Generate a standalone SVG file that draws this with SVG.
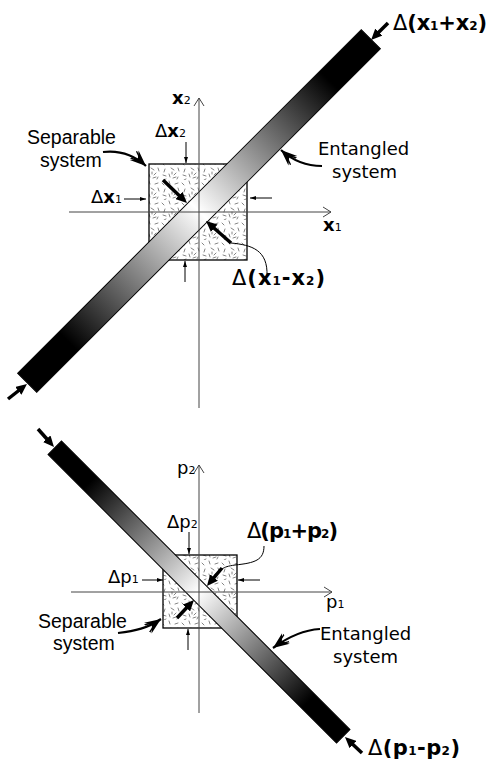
<svg xmlns="http://www.w3.org/2000/svg" width="492" height="767" viewBox="0 0 492 767">
<defs>
  <linearGradient id="barGrad" x1="0" y1="0" x2="1" y2="0">
    <stop offset="0" stop-color="#000"/>
    <stop offset="0.12" stop-color="#000"/>
    <stop offset="0.5" stop-color="#fff"/>
    <stop offset="0.88" stop-color="#000"/>
    <stop offset="1" stop-color="#000"/>
  </linearGradient>
  <pattern id="speckle" width="20" height="20" patternUnits="userSpaceOnUse">
    <rect width="20" height="20" fill="#fff"/>
    <g stroke="#666" stroke-width="0.8" stroke-linecap="round">
      <path d="M2,3 l2,2 M9,1 l1,3 M15,4 l3,-1 M18,8 l1,3 M5,9 l-1,3 M11,8 l3,2 M16,13 l-2,2 M3,15 l3,1 M9,14 l1,3 M13,18 l3,-1 M18,17 l-1,2 M6,19 l-2,1 M12,12 l0,2"/>
    </g>
  </pattern>
  <marker id="thick" markerUnits="userSpaceOnUse" markerWidth="11" markerHeight="10" viewBox="0 0 11 10" refX="3" refY="5" orient="auto">
    <path d="M0,0 L11,5 L0,10 z" fill="#000"/>
  </marker>
  <marker id="thin" markerUnits="userSpaceOnUse" markerWidth="6" markerHeight="4" viewBox="0 0 6 4" refX="6" refY="2" orient="auto">
    <path d="M0,0 L6,2 L0,4 z" fill="#000"/>
  </marker>
  <marker id="feather" markerUnits="userSpaceOnUse" markerWidth="18" markerHeight="15" viewBox="0 0 18 15" refX="17" refY="7.5" orient="auto">
    <path d="M17,7.5 L1,1 L6,7.5 L1,14 Z" fill="#000"/>
    <path d="M11,7.5 L0,3 M11,7.5 L0,12" stroke="#000" stroke-width="1.3" fill="none"/>
  </marker>
  <marker id="axhead" markerUnits="userSpaceOnUse" markerWidth="10" markerHeight="12" viewBox="0 0 10 12" refX="9" refY="6" orient="auto">
    <path d="M1,1 L9,6 L1,11" fill="none" stroke="#444" stroke-width="1"/>
  </marker>
</defs>
<style>
  .axis { stroke:#444; stroke-width:1; fill:none; marker-end:url(#axhead); }
  .box { fill:url(#speckle); stroke:#000; stroke-width:1.3; }
  .bar { fill:url(#barGrad); stroke:#000; stroke-width:1; }
  .thick { stroke:#000; stroke-width:3.5; fill:none; marker-end:url(#thick); }
  .thin { stroke:#000; stroke-width:1; fill:none; marker-end:url(#thin); }
  .feat { stroke:#000; stroke-width:2.2; fill:none; marker-end:url(#feather); }
  .lead { stroke:#000; stroke-width:1; fill:none; }
  .helv { font-family:"Liberation Sans",Arial,sans-serif; font-size:19.5px; fill:#000; }
  .comic { font-family:"DejaVu Sans","Noto Sans",sans-serif; font-size:18px; fill:#000; }
  .big { font-family:"DejaVu Sans","Noto Sans",sans-serif; font-size:21px; font-weight:bold; fill:#000; }
  .med { font-family:"DejaVu Sans","Noto Sans",sans-serif; font-size:18px; fill:#000; }
  .dl { font-weight:normal; }
  .sub { font-size:12px; }
  .sub2 { font-size:11px; }
</style>

<!-- ===== Top panel: position space ===== -->
<g id="box-x"><rect class="box" x="149" y="164" width="98" height="96"/></g>
<g id="bar-x"><rect class="bar" x="-243" y="-13.5" width="486" height="27" transform="translate(199,211) rotate(-45)"/></g>
<g id="axes-x">
  <line class="axis" x1="69" y1="212" x2="331" y2="212"/>
  <line class="axis" x1="199" y1="408" x2="199" y2="98"/>
  <text class="med" x="172" y="104" font-weight="bold">x<tspan class="sub2" font-weight="normal">2</tspan></text>
  <text class="med" x="323" y="231" font-weight="bold">x<tspan class="sub2" font-weight="normal">1</tspan></text>
</g>
<g id="label-dx1"><text class="med" x="91" y="203">Δ<tspan font-weight="bold">x</tspan><tspan class="sub2">1</tspan></text></g>
<g id="label-dx2"><text class="med" x="155" y="137">Δ<tspan font-weight="bold">x</tspan><tspan class="sub2">2</tspan></text></g>
<g id="label-xplus"><text class="big" x="393" y="30" textLength="94"><tspan class="dl">Δ</tspan>(x<tspan class="sub">1</tspan>+x<tspan class="sub">2</tspan>)</text></g>
<g id="label-xminus"><text class="big" x="232" y="285" textLength="93"><tspan class="dl">Δ</tspan>(x<tspan class="sub">1</tspan>-x<tspan class="sub">2</tspan>)</text></g>
<g id="label-sep-x">
  <text class="helv" x="27" y="144">Separable</text>
  <text class="helv" x="40" y="167">system</text>
</g>
<g id="label-ent-x">
  <text class="comic" x="318" y="155">Entangled</text>
  <text class="comic" x="332" y="178">system</text>
</g>

<!-- ===== Bottom panel: momentum space ===== -->
<g id="box-p"><rect class="box" x="163" y="555" width="74" height="73"/></g>
<g id="bar-p"><rect class="bar" x="-204" y="-9.5" width="408" height="19" transform="translate(199,592) rotate(45)"/></g>
<g id="axes-p">
  <line class="axis" x1="71" y1="592" x2="332" y2="592"/>
  <line class="axis" x1="199" y1="713" x2="199" y2="465"/>
  <text class="med" x="177" y="474">p<tspan class="sub2">2</tspan></text>
  <text class="med" x="326" y="608">p<tspan class="sub2">1</tspan></text>
</g>
<g id="label-dp1"><text class="med" x="108" y="583">Δp<tspan class="sub2">1</tspan></text></g>
<g id="label-dp2"><text class="med" x="167" y="528">Δp<tspan class="sub2">2</tspan></text></g>
<g id="label-pplus"><text class="big" x="247" y="538" textLength="91"><tspan class="dl">Δ</tspan>(p<tspan class="sub">1</tspan>+p<tspan class="sub">2</tspan>)</text></g>
<g id="label-pminus"><text class="big" x="368" y="755" textLength="92"><tspan class="dl">Δ</tspan>(p<tspan class="sub">1</tspan>-p<tspan class="sub">2</tspan>)</text></g>
<g id="label-sep-p">
  <text class="helv" x="38" y="628">Separable</text>
  <text class="helv" x="53" y="650">system</text>
</g>
<g id="label-ent-p">
  <text class="comic" x="320" y="640">Entangled</text>
  <text class="comic" x="333" y="663">system</text>
</g>

<!-- ===== Connectors ===== -->
<g id="connectors">
  <!-- top panel -->
  <line class="thick" x1="388" y1="23" x2="376.7" y2="34.3"/>
  <line class="thick" x1="8" y1="399" x2="20.7" y2="389"/>
  <line class="thick" x1="163" y1="180" x2="181.2" y2="197.5"/>
  <line class="thick" x1="231" y1="243" x2="212" y2="226.3"/>
  <path class="lead" d="M231,243 C252,245 268,250 267,276"/>
  <line class="thin" x1="124" y1="199" x2="146" y2="199"/>
  <line class="thin" x1="272" y1="198" x2="250" y2="198"/>
  <line class="thin" x1="186" y1="142" x2="186" y2="163"/>
  <line class="thin" x1="185" y1="282" x2="185" y2="261"/>
  <path class="feat" d="M103,152 C120,150 134,155 146,166"/>
  <path class="feat" d="M322,166 C305,166 292,160 281,150"/>
  <!-- bottom panel -->
  <line class="thick" x1="38" y1="429" x2="48.7" y2="441"/>
  <line class="thick" x1="362" y1="753" x2="350.8" y2="742.5"/>
  <line class="thick" x1="222" y1="568" x2="212.1" y2="579.8"/>
  <line class="thick" x1="177" y1="618" x2="188.5" y2="605.8"/>
  <path class="lead" d="M264,546 C264,560 255,563 235,565 C228,566 225,567 222,569"/>
  <line class="thin" x1="142" y1="580" x2="163" y2="580"/>
  <line class="thin" x1="260" y1="580" x2="238" y2="580"/>
  <line class="thin" x1="189" y1="532" x2="189" y2="554"/>
  <line class="thin" x1="188" y1="650" x2="188" y2="629"/>
  <path class="feat" d="M118,633 C135,631 148,628 161,619"/>
  <path class="feat" d="M320,629 C302,630 288,637 273,648"/>
</g>
</svg>
